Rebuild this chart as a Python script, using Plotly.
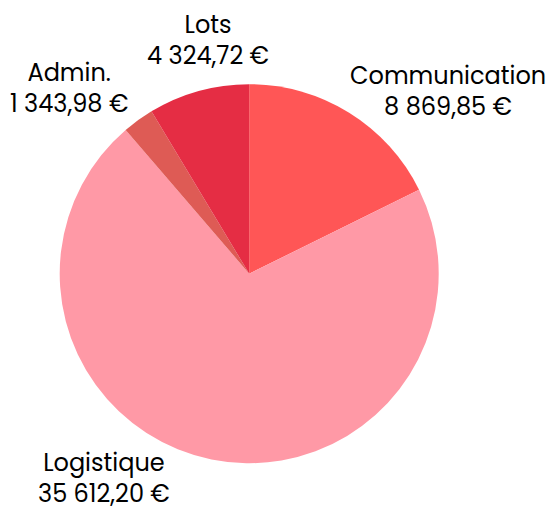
import plotly.graph_objects as go

labels = ["Communication", "Logistique", "Admin.", "Lots"]
values = [8869.85, 35612.20, 1343.98, 4324.72]
colors = ["#FF5656", "#FF99A6", "#DE5B55", "#E52D44"]

W, H = 547, 510

# pie geometry in figure pixels (layout only)
CX, CY, R = 249.2, 273.7, 189.5

# label block centres in figure pixels (layout only)
label_pos_px = {
    "Communication": (448, 90.5),
    "Logistique": (104, 478),
    "Admin.": (69, 87.5),
    "Lots": (208, 40),
}


def fmt_eur(v):
    s = f"{v:,.2f}".replace(",", " ").replace(".", ",")
    return s + " €"


fig = go.Figure(go.Pie(
    labels=labels,
    values=values,
    marker=dict(colors=colors, line=dict(width=0)),
    sort=False,
    direction="clockwise",
    rotation=0,
    textinfo="none",
    showlegend=False,
    domain=dict(x=[(CX - R) / W, (CX + R) / W], y=[1 - (CY + R) / H, 1 - (CY - R) / H]),
    hoverinfo="label+value",
))

annotations = []
for lab, val in zip(labels, values):
    px, py = label_pos_px[lab]
    annotations.append(dict(
        x=px / W, y=1 - py / H, xref="paper", yref="paper",
        xanchor="center", yanchor="middle", align="center",
        showarrow=False,
        text=f"{lab}<br>{fmt_eur(val)}",
        font=dict(family="Poppins, Open Sans, sans-serif", size=24, color="#000000"),
    ))

fig.update_layout(
    width=W, height=H,
    margin=dict(l=0, r=0, t=0, b=0),
    paper_bgcolor="white",
    separators=", ",
    annotations=annotations,
)
fig.write_html(
    "out.html",
    config={"displayModeBar": False},
    post_script="document.body.style.margin='0';document.body.style.overflow='hidden';",
)
